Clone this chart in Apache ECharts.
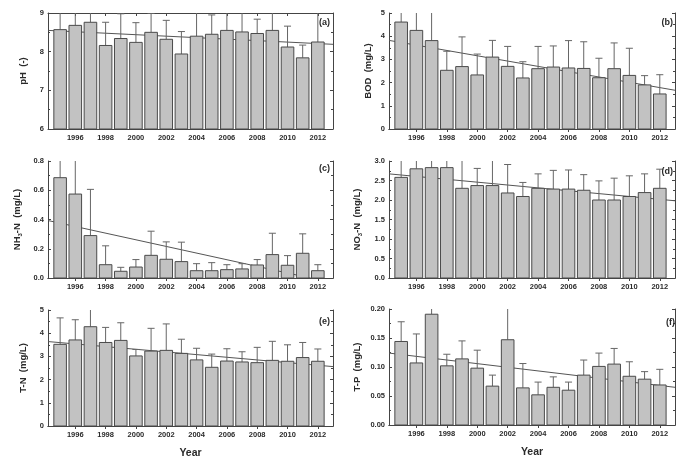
<!DOCTYPE html>
<html>
<head>
<meta charset="utf-8">
<script src="https://cdn.jsdelivr.net/npm/echarts@6/dist/echarts.min.js"></script>
<style>
html, body { margin: 0; padding: 0; background: #fff; }
#main { width: 687px; height: 460px; }
</style>
</head>
<body>
<div id="main"></div>
<script>
// yearly means, upper end of the error bar, trend line ends
var years = [1995, 1996, 1997, 1998, 1999, 2000, 2001, 2002, 2003, 2004, 2005, 2006, 2007, 2008, 2009, 2010, 2011, 2012];
var tickYears = [1996, 1998, 2000, 2002, 2004, 2006, 2008, 2010, 2012];
var xMin = 1994.2, xMax = 2013;

var phMean  = [8.57, 8.68, 8.76, 8.16, 8.34, 8.24, 8.50, 8.32, 7.94, 8.40, 8.45, 8.55, 8.51, 8.47, 8.55, 8.12, 7.84, 8.25];
var phUpper = [9.4, 9.4, 9.5, 8.76, 8.98, 8.75, 8.99, 8.81, 8.52, 9.3, 8.95, 9.3, 9.3, 8.84, 9.4, 8.66, 8.17, 9.2];
var phTrend = [8.55, 8.19];

var bodMean  = [4.61, 4.25, 3.81, 2.53, 2.69, 2.33, 3.10, 2.70, 2.20, 2.60, 2.67, 2.63, 2.61, 2.21, 2.60, 2.31, 1.90, 1.51];
var bodUpper = [5.5, 5.6, 6.0, 3.35, 3.97, 3.23, 3.82, 3.56, 2.90, 3.56, 3.58, 3.81, 3.76, 3.05, 3.71, 3.48, 2.30, 2.34];
var bodTrend = [3.82, 1.67];

var nhMean  = [0.686, 0.574, 0.29, 0.091, 0.046, 0.075, 0.155, 0.128, 0.112, 0.05, 0.05, 0.057, 0.062, 0.089, 0.16, 0.087, 0.169, 0.05];
var nhUpper = [0.95, 1.0, 0.606, 0.22, 0.073, 0.126, 0.32, 0.247, 0.245, 0.098, 0.105, 0.091, 0.098, 0.126, 0.306, 0.153, 0.302, 0.091];
var nhTrend = [0.393, -0.034];

var noMean  = [2.58, 2.80, 2.83, 2.83, 2.30, 2.37, 2.37, 2.18, 2.09, 2.30, 2.28, 2.28, 2.25, 2.00, 2.00, 2.09, 2.19, 2.30];
var noUpper = [3.3, 3.3, 3.3, 3.3, 3.2, 2.81, 3.2, 2.91, 2.45, 2.67, 2.76, 2.77, 2.65, 2.49, 2.56, 2.62, 2.67, 2.79];
var noTrend = [2.67, 1.98];

var tnMean  = [3.52, 3.71, 4.28, 3.60, 3.69, 3.02, 3.23, 3.26, 3.13, 2.85, 2.53, 2.80, 2.76, 2.73, 2.83, 2.79, 2.95, 2.79];
var tnUpper = [4.66, 4.58, 5.3, 4.25, 4.45, 3.30, 4.21, 4.40, 3.74, 3.35, 3.10, 3.33, 3.20, 3.39, 3.65, 3.50, 3.60, 3.32];
var tnTrend = [3.64, 2.56];

var tpMean  = [0.144, 0.107, 0.191, 0.102, 0.114, 0.098, 0.067, 0.147, 0.064, 0.052, 0.065, 0.060, 0.086, 0.101, 0.105, 0.084, 0.079, 0.069];
var tpUpper = [0.178, 0.157, 0.21, 0.122, 0.145, 0.129, 0.086, 0.25, 0.106, 0.074, 0.083, 0.074, 0.112, 0.124, 0.132, 0.109, 0.092, 0.096];
var tpTrend = [0.124, 0.065];

var panels = [
    {mean: phMean, upper: phUpper, trend: phTrend, min: 6, max: 9, interval: 1, dec: 0,
     name: 'pH  (-)', nameGap: 20, tag: '(a)', left: 48, top: 13, width: 285, height: 116, tagRight: 357, tagTop: 18},
    {mean: bodMean, upper: bodUpper, trend: bodTrend, min: 0, max: 5, interval: 1, dec: 0,
     name: 'BOD  (mg/L)', nameGap: 16, tag: '(b)', left: 389, top: 13, width: 286, height: 116, tagRight: 14, tagTop: 18},
    {mean: nhMean, upper: nhUpper, trend: nhTrend, min: 0, max: 0.8, interval: 0.2, dec: 1,
     name: 'NH{s|3}-N  (mg/L)', nameGap: 25, tag: '(c)', left: 48, top: 161, width: 285, height: 117, tagRight: 357, tagTop: 164},
    {mean: noMean, upper: noUpper, trend: noTrend, min: 0, max: 3, interval: 0.5, dec: 1,
     name: 'NO{s|3}-N  (mg/L)', nameGap: 26, tag: '(d)', left: 389, top: 161, width: 286, height: 117, tagRight: 14, tagTop: 167},
    {mean: tnMean, upper: tnUpper, trend: tnTrend, min: 0, max: 5, interval: 1, dec: 0,
     name: 'T-N  (mg/L)', nameGap: 20, tag: '(e)', left: 48, top: 310, width: 285, height: 116, tagRight: 357, tagTop: 317, year: true},
    {mean: tpMean, upper: tpUpper, trend: tpTrend, min: 0, max: 0.2, interval: 0.05, dec: 2,
     name: 'T-P  (mg/L)', nameGap: 27, tag: '(f)', left: 389, top: 309, width: 286, height: 116, tagRight: 12, tagTop: 318, year: true}
];

var textColor = '#2a2a2a';
var axisColor = '#444';
var grids = [], xAxes = [], yAxes = [], series = [], titles = [];

panels.forEach(function (p, i) {
    grids.push({left: p.left, top: p.top, width: p.width, height: p.height});

    xAxes.push({
        gridIndex: i, type: 'value', min: xMin, max: xMax,
        name: p.year ? 'Year' : '', nameLocation: 'middle', nameGap: 22,
        nameTextStyle: {fontSize: 10.5, fontWeight: 'bold', color: textColor, fontFamily: 'Liberation Sans'},
        axisLine: {show: true, lineStyle: {color: axisColor, width: 1}},
        axisTick: {inside: true, length: 3, customValues: tickYears, lineStyle: {color: axisColor}},
        axisLabel: {customValues: tickYears, margin: 5, fontSize: 7.5, fontWeight: 'bold', color: textColor,
            fontFamily: 'Liberation Sans', formatter: function (v) { return String(v); }},
        splitLine: {show: false}
    });
    xAxes.push({
        gridIndex: i, type: 'value', min: xMin, max: xMax, position: 'top',
        axisLine: {show: true, lineStyle: {color: axisColor, width: 1}},
        axisTick: {inside: true, length: 3, customValues: tickYears, lineStyle: {color: axisColor}},
        axisLabel: {show: false},
        splitLine: {show: false}
    });

    yAxes.push({
        gridIndex: i, type: 'value', min: p.min, max: p.max, interval: p.interval,
        name: p.name, nameLocation: 'middle', nameGap: p.nameGap, nameRotate: 90,
        nameTextStyle: {fontSize: 9.5, fontWeight: 'bold', color: textColor, fontFamily: 'Liberation Sans',
            rich: {s: {fontSize: 6, fontWeight: 'bold', color: textColor, fontFamily: 'Liberation Sans', padding: [5, 0, 0, 0]}}},
        axisLine: {show: true, lineStyle: {color: axisColor, width: 1}},
        axisTick: {inside: true, length: 3, lineStyle: {color: axisColor}},
        minorTick: {show: true, splitNumber: 2, length: 2, lineStyle: {color: axisColor}},
        axisLabel: {fontSize: 7.5, fontWeight: 'bold', color: textColor, margin: 4, fontFamily: 'Liberation Sans',
            formatter: function (v) { return v.toFixed(p.dec); }},
        splitLine: {show: false}
    });
    yAxes.push({
        gridIndex: i, type: 'value', min: p.min, max: p.max, interval: p.interval, position: 'right',
        axisLine: {show: true, lineStyle: {color: axisColor, width: 1}},
        axisTick: {inside: true, length: 3, lineStyle: {color: axisColor}},
        minorTick: {show: true, splitNumber: 2, length: 2, lineStyle: {color: axisColor}},
        axisLabel: {show: false},
        splitLine: {show: false}
    });

    // trend line, drawn under the bars
    series.push({
        type: 'line', xAxisIndex: 2 * i, yAxisIndex: 2 * i, z: 1, silent: true,
        data: [[xMin, p.trend[0]], [xMax, p.trend[1]]],
        symbol: 'none', clip: true,
        lineStyle: {color: '#555', width: 1}
    });

    // bars with upward error bars
    var rows = years.map(function (y, k) { return [y, p.mean[k], p.upper[k]]; });
    series.push({
        type: 'custom', xAxisIndex: 2 * i, yAxisIndex: 2 * i, z: 3, silent: true, clip: true,
        data: rows,
        encode: {x: 0, y: 1},
        renderItem: function (params, api) {
            var x = api.value(0);
            var base = api.coord([x, p.min]);
            var top = api.coord([x, api.value(1)]);
            var hi = api.coord([x, api.value(2)]);
            var w = api.size([0.83, 0])[0];
            var cap = w * 0.28;
            return {
                type: 'group',
                children: [
                    {type: 'line', shape: {x1: top[0], y1: top[1], x2: hi[0], y2: hi[1]},
                     style: {stroke: '#666', lineWidth: 1}},
                    {type: 'line', shape: {x1: hi[0] - cap, y1: hi[1], x2: hi[0] + cap, y2: hi[1]},
                     style: {stroke: '#666', lineWidth: 1}},
                    {type: 'rect', shape: {x: base[0] - w / 2, y: top[1], width: w, height: base[1] - top[1]},
                     style: {fill: '#c2c2c2', stroke: '#4a4a4a', lineWidth: 1}}
                ]
            };
        }
    });

    titles.push({
        text: p.tag, right: p.tagRight, top: p.tagTop, padding: 0,
        textStyle: {fontSize: 9, fontWeight: 'bold', color: textColor, fontFamily: 'Liberation Sans'}
    });
});

var myChart = echarts.init(document.getElementById('main'));
myChart.setOption({
    animation: false,
    backgroundColor: '#fff',
    title: titles,
    grid: grids,
    xAxis: xAxes,
    yAxis: yAxes,
    series: series
});
</script>
</body>
</html>
